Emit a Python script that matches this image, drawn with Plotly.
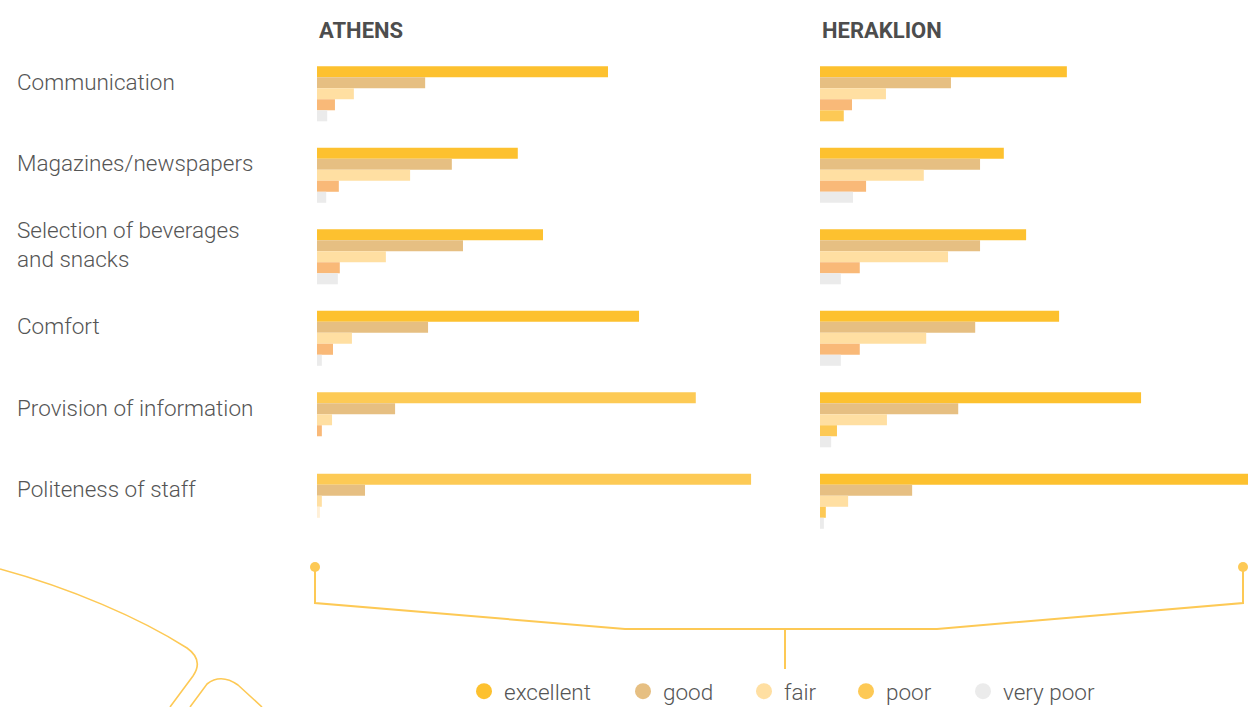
import plotly.graph_objects as go

W, H = 1248, 707

categories = ["Communication", "Magazines/newspapers", "Selection of beverages and snacks",
              "Comfort", "Provision of information", "Politeness of staff"]
category_labels = ["Communication", "Magazines/newspapers", "Selection of beverages<br>and snacks",
                   "Comfort", "Provision of information", "Politeness of staff"]
ratings = ["excellent", "good", "fair", "poor", "very poor"]

# values in %
athens_excellent = [60.0, 41.4, 46.6, 66.4, 78.1, 89.5]
athens_good = [22.3, 27.8, 30.1, 22.9, 16.1, 9.9]
athens_fair = [7.6, 19.2, 14.2, 7.2, 3.1, 1.0]
athens_poor = [3.7, 4.5, 4.7, 3.3, 1.0, 0.6]
athens_very_poor = [2.1, 1.9, 4.3, 1.0, 0.0, 0.0]

heraklion_excellent = [50.9, 37.9, 42.5, 49.3, 66.2, 92.0]
heraklion_good = [27.0, 33.0, 33.0, 32.0, 28.5, 19.0]
heraklion_fair = [13.6, 21.4, 26.4, 21.9, 13.8, 5.8]
heraklion_poor = [6.6, 9.5, 8.2, 8.2, 3.5, 1.2]
heraklion_very_poor = [4.9, 6.8, 4.3, 4.3, 2.3, 0.8]

# styles
C_EXC = "#FDC12F"
C_EXC2 = "#FDCA55"
C_GOOD = "#E6BF82"
C_FAIR = "#FFDFA2"
C_POOR = "#F9B978"
C_YEL = "#FDC955"
C_VP = "#EBEBEB"
C_PALE = "#FFF0D8"
legend_colors = [C_EXC, C_GOOD, C_FAIR, C_YEL, C_VP]
LINE = "#FDC955"
TXT = "#555555"
FONT = "Roboto"
FS = 22.5

athens_colors = [
    [C_EXC, C_EXC, C_EXC, C_EXC, C_EXC2, C_EXC2],
    [C_GOOD] * 6,
    [C_FAIR] * 6,
    [C_POOR, C_POOR, C_POOR, C_POOR, C_POOR, C_PALE],
    [C_VP] * 6,
]
heraklion_colors = [
    [C_EXC] * 6,
    [C_GOOD] * 6,
    [C_FAIR] * 6,
    [C_POOR, C_POOR, C_POOR, C_POOR, C_YEL, C_YEL],
    [C_YEL, C_VP, C_VP, C_VP, C_VP, C_VP],
]

athens = [athens_excellent, athens_good, athens_fair, athens_poor, athens_very_poor]
heraklion = [heraklion_excellent, heraklion_good, heraklion_fair, heraklion_poor, heraklion_very_poor]


def px(x):
    return x / W


def py(y):
    return (H - y) / H


# legend circle centres in the reference (px)
legend_cx = [487, 646, 767, 869, 986]
legend_ids = ["legend", "legend2", "legend3", "legend4", "legend5"]

fig = go.Figure()
for i, r in enumerate(ratings):
    fig.add_trace(go.Bar(y=categories, x=athens[i], orientation="h", name=r,
                         marker=dict(color=athens_colors[i], line=dict(width=0)),
                         xaxis="x", yaxis="y", showlegend=False, offsetgroup=str(i)))
    fig.add_trace(go.Bar(y=categories, x=heraklion[i], orientation="h", name=r,
                         marker=dict(color=heraklion_colors[i], line=dict(width=0)),
                         xaxis="x2", yaxis="y2", showlegend=False, offsetgroup=str(i)))
for i, r in enumerate(ratings):
    fig.add_trace(go.Scatter(x=[None], y=[None], mode="markers", name=r,
                             marker=dict(color=legend_colors[i], size=17, symbol="circle"),
                             xaxis="x", yaxis="y", showlegend=True, legend=legend_ids[i]))

PXU = 4.85  # pixels per percent
ax0, ax1 = 317, 317 + 460
hx0, hx1 = 820, 1248
ytop, ybot = 53, 542

layout = dict(
    width=W, height=H,
    margin=dict(l=0, r=0, t=0, b=0, autoexpand=False),
    paper_bgcolor="white", plot_bgcolor="white",
    barmode="group", bargap=0.324, bargroupgap=0,
    font=dict(family=FONT, color=TXT, size=FS),
    xaxis=dict(domain=[px(ax0), px(ax1)], range=[0, (ax1 - ax0) / PXU], visible=False),
    xaxis2=dict(domain=[px(hx0), px(hx1)], range=[0, (hx1 - hx0) / PXU], visible=False, anchor="y2"),
    yaxis=dict(domain=[py(ybot), py(ytop)], autorange="reversed", visible=False,
               type="category", categoryorder="array", categoryarray=categories),
    yaxis2=dict(domain=[py(ybot), py(ytop)], autorange="reversed", visible=False, anchor="x2",
                type="category", categoryorder="array", categoryarray=categories),
    showlegend=True,
)
for lid, cx in zip(legend_ids, legend_cx):
    layout[lid] = dict(orientation="h", x=px(cx - 23), y=py(713), xanchor="left", yanchor="bottom",
                       font=dict(family=FONT, size=FS, color=TXT, weight=300), itemwidth=30,
                       bgcolor="rgba(0,0,0,0)")
fig.update_layout(**layout)

ann = []
for c, lab in zip(categories, category_labels):
    ann.append(dict(x=px(15), xref="paper", y=c, yref="y", text=lab, showarrow=False,
                    xanchor="left", yanchor="middle", align="left", yshift=12,
                    font=dict(family=FONT, size=FS, color=TXT, weight=300)))
for t, x in [("ATHENS", 317), ("HERAKLION", 820)]:
    ann.append(dict(x=px(x), xref="paper", y=py(31), yref="paper", text=t,
                    showarrow=False, xanchor="left", yanchor="middle",
                    font=dict(family=FONT, size=22, color="#4d4d4d", weight=700)))
fig.update_layout(annotations=ann)


def P(x, y):
    return f"{px(x)},{py(y)}"


def line_path(pts):
    return "M " + " L ".join(P(x, y) for x, y in pts)


shapes = []
shapes.append(dict(type="path", xref="paper", yref="paper",
                   path=line_path([(315, 567), (315, 603), (625, 629), (937, 629), (1243, 603), (1243, 567)]),
                   line=dict(color=LINE, width=2)))
shapes.append(dict(type="line", xref="paper", yref="paper", x0=px(785), x1=px(785), y0=py(629), y1=py(669),
                   line=dict(color=LINE, width=2)))
for cx in (315, 1243):
    shapes.append(dict(type="circle", xref="paper", yref="paper",
                       x0=px(cx - 5), x1=px(cx + 5), y0=py(567 + 5), y1=py(567 - 5),
                       fillcolor=LINE, line=dict(width=0)))
# decorative curves bottom-left
shapes.append(dict(type="path", xref="paper", yref="paper",
                   path=f"M {P(0,569)} C {P(70,588)} {P(140,618)} {P(187,648)} Q {P(204,660)} {P(193,676)} L {P(170,707)}",
                   line=dict(color=LINE, width=1.6)))
shapes.append(dict(type="path", xref="paper", yref="paper",
                   path=f"M {P(190,707)} L {P(207,684)} Q {P(221,673)} {P(238,685)} L {P(262,707)}",
                   line=dict(color=LINE, width=1.6)))
fig.update_layout(shapes=shapes)

fig.write_html("out.html", config={"displayModeBar": False},
               post_script="document.body.style.margin='0';document.body.style.overflow='hidden';")
